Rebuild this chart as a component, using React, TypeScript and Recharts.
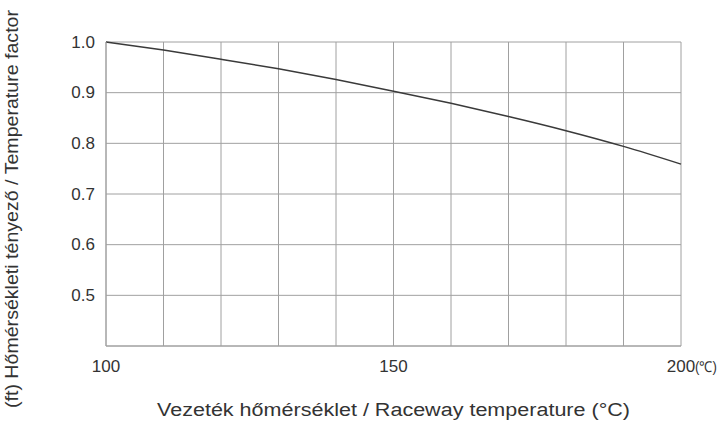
import React from "react";
import { LineChart, Line, XAxis, YAxis, CartesianGrid, Label } from "recharts";

const temperatures = [100, 110, 120, 130, 140, 150, 160, 170, 180, 190, 200];
const factors = [1.0, 0.984, 0.966, 0.947, 0.926, 0.903, 0.879, 0.853, 0.825, 0.794, 0.759];
const xTicks = [100, 110, 120, 130, 140, 150, 160, 170, 180, 190, 200];
const xLabeled = [100, 150, 200];
const yTicks = [0.4, 0.5, 0.6, 0.7, 0.8, 0.9, 1.0];
const yLabeled = [0.5, 0.6, 0.7, 0.8, 0.9, 1.0];
const xTitle = "Vezeték hőmérséklet / Raceway temperature (°C)";
const yTitle = "(ft) Hőmérsékleti tényező / Temperature factor";
const unitSuffix = "(℃)";

const data = temperatures.map((t, i) => ({ t, f: factors[i] }));

const FONT = "'Liberation Sans', Arial, sans-serif";
const TEXT = "#333";

const XTick = (props: any) => {
  const { x, y, payload } = props;
  const v = payload.value;
  if (!xLabeled.includes(v)) return null;
  return (
    <g>
      <text x={x} y={y + 12} textAnchor="middle" dominantBaseline="central" fontSize={17} fill={TEXT} fontFamily={FONT}>
        {String(v)}
      </text>
      {v === 200 ? (
        <text
          x={x + 14}
          y={y + 12}
          textAnchor="start"
          dominantBaseline="central"
          fontSize={15}
          fill={TEXT}
          fontFamily={FONT}
          textLength={22}
          lengthAdjust="spacingAndGlyphs"
        >
          {unitSuffix}
        </text>
      ) : null}
    </g>
  );
};

const YTick = (props: any) => {
  const { x, y, payload } = props;
  const v = payload.value;
  if (!yLabeled.some((l) => Math.abs(l - v) < 1e-9)) return null;
  return (
    <text x={x - 3} y={y} textAnchor="end" dominantBaseline="central" fontSize={17} fill={TEXT} fontFamily={FONT}>
      {v.toFixed(1)}
    </text>
  );
};

const XTitle = (props: any) => {
  const vb = props.viewBox || {};
  const cx = vb.x + vb.width / 2;
  return (
    <text
      x={cx}
      y={410}
      textAnchor="middle"
      dominantBaseline="central"
      fontSize={18}
      fill={TEXT}
      fontFamily={FONT}
      textLength={473}
      lengthAdjust="spacingAndGlyphs"
    >
      {xTitle}
    </text>
  );
};

const YTitle = () => {
  return (
    <text
      x={0}
      y={0}
      transform="translate(12, 209) rotate(-90)"
      textAnchor="middle"
      dominantBaseline="central"
      fontSize={18}
      fill={TEXT}
      fontFamily={FONT}
      textLength={398}
      lengthAdjust="spacingAndGlyphs"
    >
      {yTitle}
    </text>
  );
};

export default function App() {
  return (
    <div style={{ position: "absolute", left: 0, top: 0, background: "#fff" }}>
      <LineChart width={719} height={432} data={data} margin={{ top: 42, right: 38, bottom: 0, left: 0 }}>
        <CartesianGrid stroke="#a0a0a0" strokeWidth={1} />
        <XAxis
          dataKey="t"
          type="number"
          domain={[100, 200]}
          ticks={xTicks}
          interval={0}
          tick={<XTick />}
          tickLine={false}
          axisLine={{ stroke: "#a0a0a0" }}
          height={86}
        >
          <Label content={<XTitle />} />
        </XAxis>
        <YAxis
          type="number"
          domain={[0.4, 1.0]}
          ticks={yTicks}
          interval={0}
          tick={<YTick />}
          tickLine={false}
          axisLine={{ stroke: "#a0a0a0" }}
          width={106}
        >
          <Label content={<YTitle />} />
        </YAxis>
        <Line
          type="monotone"
          dataKey="f"
          stroke="#3a3a3a"
          strokeWidth={1.5}
          dot={false}
          isAnimationActive={false}
        />
      </LineChart>
    </div>
  );
}
